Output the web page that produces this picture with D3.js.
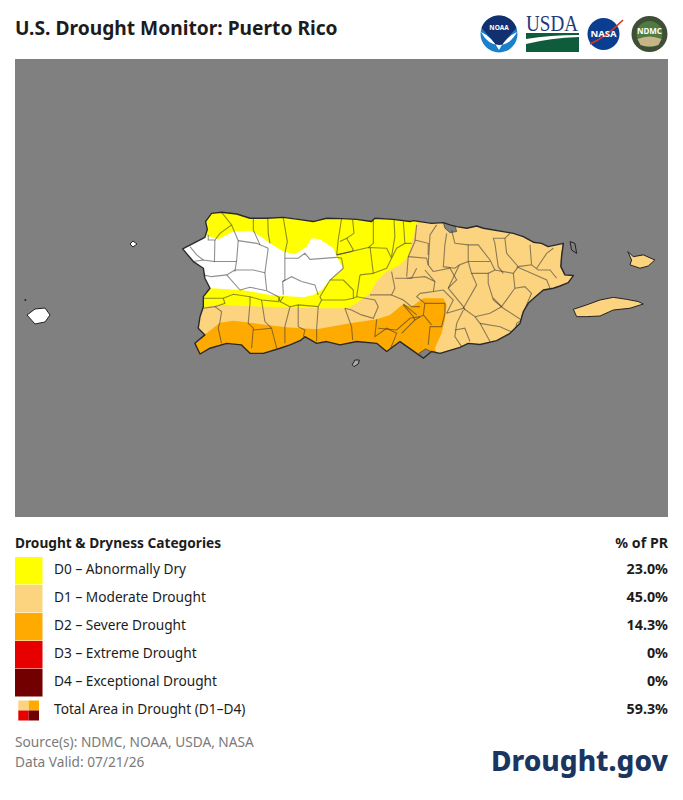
<!DOCTYPE html>
<html>
<head>
<meta charset="utf-8">
<title>U.S. Drought Monitor: Puerto Rico</title>
<script src="https://cdn.jsdelivr.net/npm/d3@7"></script>
<style>
  body { margin: 0; background: #fff; }
  text { font-family: "Noto Sans", sans-serif; fill: #1c1c1c; }
</style>
</head>
<body>
<svg id="chart" width="683" height="800"></svg>
<script>
// legend values
var categories = ['D0', 'D1', 'D2', 'D3', 'D4', 'Total'];
var categoryLabels = ['D0 – Abnormally Dry', 'D1 – Moderate Drought', 'D2 – Severe Drought',
  'D3 – Extreme Drought', 'D4 – Exceptional Drought', 'Total Area in Drought (D1–D4)'];
var categoryValues = ['23.0%', '45.0%', '14.3%', '0%', '0%', '59.3%'];
var categoryColors = ['#ffff00', '#fcd37f', '#ffaa00', '#e60000', '#730000'];

// map extent and outlines, [lon, lat]
var extentLon = [-67.9975, -65.059];
var extentLat = [19.1845, 17.1235];

var landOutline = [[-67.243,18.330],[-67.195,18.355],[-67.143,18.382],[-67.132,18.418],[-67.140,18.453],[-67.113,18.490],[-67.068,18.495],[-67.000,18.487],[-66.940,18.468],[-66.865,18.468],[-66.790,18.472],[-66.723,18.463],[-66.655,18.453],[-66.595,18.468],[-66.528,18.466],[-66.460,18.463],[-66.393,18.453],[-66.378,18.468],[-66.295,18.463],[-66.220,18.453],[-66.205,18.457],[-66.123,18.445],[-66.070,18.448],[-66.040,18.438],[-66.010,18.430],[-65.965,18.423],[-65.920,18.433],[-65.890,18.423],[-65.755,18.400],[-65.710,18.385],[-65.665,18.360],[-65.628,18.355],[-65.598,18.340],[-65.530,18.355],[-65.538,18.295],[-65.541,18.250],[-65.523,18.213],[-65.485,18.210],[-65.508,18.178],[-65.545,18.163],[-65.575,18.153],[-65.620,18.145],[-65.658,18.112],[-65.688,18.085],[-65.710,18.048],[-65.725,17.995],[-65.770,17.950],[-65.830,17.917],[-65.905,17.900],[-65.958,17.905],[-65.995,17.887],[-66.085,17.860],[-66.123,17.868],[-66.160,17.838],[-66.190,17.860],[-66.265,17.913],[-66.325,17.868],[-66.370,17.905],[-66.460,17.913],[-66.535,17.898],[-66.595,17.913],[-66.640,17.905],[-66.693,17.935],[-66.715,17.917],[-66.760,17.898],[-66.805,17.883],[-66.880,17.860],[-66.940,17.860],[-66.978,17.898],[-67.045,17.905],[-67.120,17.883],[-67.165,17.857],[-67.188,17.905],[-67.143,17.943],[-67.173,17.973],[-67.165,18.025],[-67.150,18.070],[-67.150,18.115],[-67.120,18.153],[-67.143,18.198],[-67.150,18.243],[-67.195,18.273]];
var viequesOutline = [[-65.485,18.058],[-65.425,18.078],[-65.365,18.100],[-65.305,18.112],[-65.245,18.103],[-65.193,18.093],[-65.170,18.082],[-65.230,18.063],[-65.305,18.055],[-65.365,18.028],[-65.425,18.025],[-65.470,18.025]];
var culebraOutline = [[-65.240,18.318],[-65.215,18.295],[-65.170,18.303],[-65.118,18.280],[-65.148,18.253],[-65.185,18.243],[-65.230,18.258],[-65.223,18.280]];
var monaOutline = [[-67.9435,18.0325],[-67.9075,18.0595],[-67.8625,18.064],[-67.84,18.0325],[-67.8625,18.001],[-67.9075,17.992]];
var desecheoOutline = [[-67.48,18.352],[-67.4665,18.3655],[-67.4485,18.352],[-67.4665,18.3385]];
var cajaOutline = [[-66.480,17.808],[-66.468,17.83],[-66.448,17.83],[-66.453,17.812],[-66.472,17.80]];
var palominoOutline = [[-65.500,18.363],[-65.478,18.355],[-65.470,18.310],[-65.493,18.325]];
var monitoOutline = [[-67.953,18.102],[-67.949,18.102],[-67.949,18.098],[-67.953,18.098]];

var d0Area = [[-66.175,18.505],[-66.213,18.355],[-66.228,18.295],[-66.265,18.258],[-66.325,18.228],[-66.370,18.183],[-66.400,18.130],[-66.460,18.085],[-66.505,18.063],[-66.625,18.063],[-66.820,18.067],[-67.060,18.078],[-67.165,18.067],[-67.210,18.160],[-67.165,18.460],[-67.135,18.535]];
var noneArea = [[-67.270,18.355],[-67.143,18.393],[-67.083,18.373],[-67.015,18.408],[-66.940,18.412],[-66.903,18.393],[-66.850,18.355],[-66.790,18.318],[-66.738,18.306],[-66.685,18.340],[-66.663,18.378],[-66.625,18.373],[-66.565,18.333],[-66.550,18.295],[-66.520,18.243],[-66.580,18.190],[-66.618,18.145],[-66.655,18.123],[-66.700,18.112],[-66.850,18.123],[-66.978,18.145],[-67.113,18.153],[-67.150,18.145],[-67.210,18.250],[-67.270,18.295]];
var d2Area = [[-67.210,17.920],[-67.135,17.950],[-67.075,17.998],[-67.015,18.007],[-66.940,17.998],[-66.865,17.988],[-66.775,17.977],[-66.640,17.968],[-66.490,17.995],[-66.370,18.013],[-66.310,18.033],[-66.250,18.082],[-66.213,18.070],[-66.160,18.108],[-66.070,18.108],[-66.055,18.078],[-66.063,18.010],[-66.078,17.950],[-66.108,17.883],[-66.093,17.830],[-67.165,17.800],[-67.21,17.86]];

var waterPatches = [
  [[-66.070,18.448],[-66.018,18.438],[-66.010,18.408],[-66.040,18.403],[-66.063,18.423]],
  [[-65.530,18.355],[-65.523,18.295],[-65.528,18.250],[-65.505,18.213],[-65.523,18.213],[-65.541,18.250],[-65.538,18.295]],
  [[-66.180,17.860],[-66.160,17.838],[-66.125,17.868],[-66.150,17.880]]
];

var municipalLines = [
  [[-67.068,18.495],[-67.023,18.438],[-67.075,18.400],[-67.098,18.370],[-67.128,18.370],[-67.128,18.393]],
  [[-67.023,18.438],[-66.993,18.367],[-67.000,18.280],[-67.008,18.228]],
  [[-67.098,18.370],[-67.100,18.273],[-67.150,18.280],[-67.195,18.273]],
  [[-67.210,18.340],[-67.180,18.303],[-67.150,18.280]],
  [[-67.100,18.273],[-67.000,18.273]],
  [[-67.008,18.235],[-67.045,18.213],[-67.113,18.205],[-67.150,18.213]],
  [[-67.045,18.213],[-66.985,18.145]],
  [[-67.008,18.235],[-66.925,18.235],[-66.873,18.223]],
  [[-66.993,18.367],[-66.910,18.355],[-66.858,18.333]],
  [[-66.925,18.468],[-66.925,18.415],[-66.895,18.348]],
  [[-66.858,18.333],[-66.873,18.223],[-66.865,18.145]],
  [[-66.860,18.468],[-66.858,18.400],[-66.850,18.355]],
  [[-66.790,18.468],[-66.772,18.363],[-66.783,18.310],[-66.783,18.190],[-66.793,18.183],[-66.790,18.123]],
  [[-66.783,18.288],[-66.723,18.288],[-66.693,18.310],[-66.670,18.283],[-66.550,18.292]],
  [[-66.793,18.183],[-66.753,18.205],[-66.708,18.183],[-66.648,18.168],[-66.633,18.123]],
  [[-66.985,18.145],[-66.940,18.157],[-66.865,18.142],[-66.813,18.115],[-66.805,18.093],[-66.790,18.115]],
  [[-66.528,18.466],[-66.543,18.370],[-66.550,18.303]],
  [[-66.478,18.460],[-66.472,18.400],[-66.505,18.378],[-66.535,18.363]],
  [[-66.505,18.378],[-66.475,18.325],[-66.483,18.318],[-66.550,18.303]],
  [[-66.550,18.303],[-66.408,18.336],[-66.325,18.333],[-66.303,18.288],[-66.325,18.243],[-66.385,18.220],[-66.400,18.340]],
  [[-66.385,18.468],[-66.385,18.355],[-66.408,18.336]],
  [[-66.292,18.460],[-66.288,18.385],[-66.303,18.295]],
  [[-66.250,18.453],[-66.243,18.355],[-66.280,18.333],[-66.303,18.288]],
  [[-66.243,18.355],[-66.213,18.355]],
  [[-66.520,18.243],[-66.528,18.288],[-66.550,18.292]],
  [[-66.520,18.243],[-66.580,18.190],[-66.625,18.115],[-66.618,18.100]],
  [[-66.580,18.190],[-66.520,18.190],[-66.475,18.145],[-66.475,18.108]],
  [[-66.445,18.213],[-66.460,18.115],[-66.475,18.108],[-66.513,18.100],[-66.618,18.100]],
  [[-66.445,18.213],[-66.385,18.220]],
  [[-67.150,18.108],[-67.060,18.108],[-67.053,18.085],[-67.098,18.070]],
  [[-67.060,18.108],[-67.015,18.126],[-66.940,18.115],[-66.888,18.100],[-66.813,18.093],[-66.805,18.115]],
  [[-66.940,18.115],[-66.940,18.085],[-66.948,17.995],[-66.925,17.973],[-66.933,17.883]],
  [[-66.888,18.100],[-66.873,18.003],[-66.843,17.973],[-66.820,17.883]],
  [[-66.805,18.093],[-66.760,18.070],[-66.783,17.980],[-66.783,17.905]],
  [[-66.723,18.078],[-66.723,17.980],[-66.693,17.965],[-66.700,17.935]],
  [[-66.633,18.070],[-66.640,17.973],[-66.640,17.913]],
  [[-66.513,18.063],[-66.483,17.980],[-66.478,17.920]],
  [[-67.098,18.070],[-67.068,18.048],[-67.075,18.003],[-67.083,17.973],[-67.068,17.905]],
  [[-67.150,18.063],[-67.098,18.070]],
  [[-66.760,18.070],[-66.723,18.078],[-66.633,18.070],[-66.618,18.100]],
  [[-66.925,17.965],[-66.843,17.973]],
  [[-66.460,18.115],[-66.378,18.100],[-66.363,18.070],[-66.385,18.018],[-66.438,18.033],[-66.483,18.055],[-66.513,18.063]],
  [[-66.370,18.013],[-66.378,17.935],[-66.325,17.973],[-66.280,17.950],[-66.310,17.875]],
  [[-66.363,17.973],[-66.280,17.965],[-66.220,18.018],[-66.175,18.025]],
  [[-66.250,18.082],[-66.190,18.033]],
  [[-66.400,18.123],[-66.303,18.123]],
  [[-66.303,18.228],[-66.288,18.153],[-66.303,18.123],[-66.250,18.100],[-66.213,18.070],[-66.175,18.070]],
  [[-66.288,18.198],[-66.213,18.198],[-66.190,18.243]],
  [[-66.190,18.438],[-66.198,18.363],[-66.228,18.295],[-66.235,18.205]],
  [[-66.198,18.370],[-66.138,18.355],[-66.138,18.303]],
  [[-66.100,18.438],[-66.130,18.393],[-66.138,18.258],[-66.115,18.228]],
  [[-66.055,18.400],[-66.063,18.348],[-66.070,18.250],[-66.018,18.243],[-65.998,18.258]],
  [[-66.228,18.295],[-66.145,18.288],[-66.138,18.258]],
  [[-66.235,18.198],[-66.153,18.205],[-66.108,18.183],[-66.115,18.138],[-66.175,18.130]],
  [[-66.153,18.235],[-66.108,18.183]],
  [[-66.115,18.228],[-66.040,18.243],[-66.010,18.190],[-66.048,18.153]],
  [[-65.998,18.258],[-66.048,18.153],[-65.980,18.070],[-65.973,18.055]],
  [[-65.998,18.258],[-65.958,18.273],[-65.860,18.273]],
  [[-65.958,18.273],[-65.958,18.348],[-65.913,18.348],[-65.860,18.280],[-65.838,18.235]],
  [[-66.033,18.415],[-66.018,18.355],[-65.958,18.348]],
  [[-65.958,18.273],[-65.943,18.220],[-65.920,18.168],[-65.980,18.063]],
  [[-65.943,18.220],[-65.868,18.220],[-65.838,18.235],[-65.755,18.220],[-65.733,18.250],[-65.785,18.310]],
  [[-65.868,18.220],[-65.868,18.175],[-65.845,18.100],[-65.800,18.063]],
  [[-65.838,18.355],[-65.845,18.378],[-65.793,18.378],[-65.770,18.400]],
  [[-65.793,18.378],[-65.785,18.310]],
  [[-65.838,18.355],[-65.823,18.250],[-65.800,18.220]],
  [[-65.680,18.348],[-65.673,18.258],[-65.733,18.250]],
  [[-65.673,18.258],[-65.643,18.235],[-65.590,18.235],[-65.560,18.198]],
  [[-65.755,18.220],[-65.748,18.153],[-65.808,18.070],[-65.845,18.108]],
  [[-65.748,18.153],[-65.703,18.160],[-65.673,18.130],[-65.718,18.025]],
  [[-65.740,18.250],[-65.673,18.220],[-65.605,18.190],[-65.590,18.153]],
  [[-65.800,18.063],[-65.718,18.010],[-65.740,17.995],[-65.748,17.950]],
  [[-65.928,18.025],[-65.860,18.040],[-65.808,18.070]],
  [[-65.980,18.063],[-65.928,18.025],[-65.905,17.995],[-65.860,17.913]],
  [[-65.905,17.995],[-65.815,17.980],[-65.748,17.950]],
  [[-65.980,18.055],[-66.010,17.995],[-66.018,17.935],[-65.988,17.890]],
  [[-66.018,17.965],[-65.973,17.973],[-65.950,17.913]],
  [[-66.055,18.040],[-65.980,18.063]],
  [[-66.153,18.085],[-66.063,18.085],[-66.063,18.040],[-66.078,17.980],[-66.130,17.980],[-66.138,17.898]],
  [[-66.153,18.085],[-66.160,18.033],[-66.198,18.010],[-66.258,17.950]],
  [[-66.160,18.033],[-66.123,17.988]],
  [[-66.250,18.078],[-66.205,18.025],[-66.198,18.010]],
  [[-66.175,18.130],[-66.190,18.115],[-66.153,18.085]],
  [[-66.115,18.138],[-66.070,18.145],[-66.025,18.100],[-66.055,18.040]],
  [[-65.575,18.333],[-65.605,18.310],[-65.650,18.243]]
];

var svg = d3.select('#chart');

svg.append('text').attr('x', 15).attr('y', 35)
  .style('font-size', '19.2px').style('font-weight', 700)
  .text('U.S. Drought Monitor: Puerto Rico');

// map
var xMap = d3.scaleLinear().domain(extentLon).range([15, 668]);
var yMap = d3.scaleLinear().domain(extentLat).range([59, 517]);
var ring = d3.line().x(function(d) { return xMap(d[0]); }).y(function(d) { return yMap(d[1]); });
function closed(pts) { return ring(pts) + 'Z'; }

svg.append('rect').attr('x', xMap(extentLon[0])).attr('y', yMap(extentLat[0]))
  .attr('width', xMap(extentLon[1]) - xMap(extentLon[0]))
  .attr('height', yMap(extentLat[1]) - yMap(extentLat[0]))
  .attr('fill', '#808080');

// the source map is a soft raster, so take the edge off the vector lines
svg.append('filter').attr('id', 'soft').append('feGaussianBlur').attr('stdDeviation', 0.35);
svg.append('clipPath').attr('id', 'land').append('path').attr('d', closed(landOutline));

var mapG = svg.append('g').attr('filter', 'url(#soft)');
mapG.append('path').attr('d', closed(landOutline)).attr('fill', categoryColors[1]);

var clipped = mapG.append('g').attr('clip-path', 'url(#land)');
clipped.append('path').attr('d', closed(d0Area)).attr('fill', categoryColors[0]);
clipped.append('path').attr('d', closed(noneArea)).attr('fill', '#fff');
clipped.append('path').attr('d', closed(d2Area)).attr('fill', categoryColors[2]);
clipped.selectAll('path.water').data(waterPatches).enter().append('path')
  .attr('class', 'water').attr('d', closed).attr('fill', '#808080')
  .attr('stroke', '#333').attr('stroke-width', 0.6);
clipped.selectAll('path.muni').data(municipalLines).enter().append('path')
  .attr('class', 'muni').attr('d', ring).attr('fill', 'none')
  .attr('stroke', '#333').attr('stroke-opacity', 0.55).attr('stroke-width', 1.1);

mapG.append('path').attr('d', closed(landOutline)).attr('fill', 'none')
  .attr('stroke', '#2a2a2a').attr('stroke-width', 1.4).attr('stroke-linejoin', 'round');

var islands = [
  { pts: viequesOutline, fill: categoryColors[1] },
  { pts: culebraOutline, fill: categoryColors[1] },
  { pts: monaOutline, fill: '#fff' },
  { pts: desecheoOutline, fill: '#fff' },
  { pts: cajaOutline, fill: '#aaa' },
  { pts: palominoOutline, fill: '#808080' },
  { pts: monitoOutline, fill: '#444' }
];
mapG.selectAll('path.island').data(islands).enter().append('path')
  .attr('class', 'island')
  .attr('d', function(d) { return closed(d.pts); })
  .attr('fill', function(d) { return d.fill; })
  .attr('stroke', '#222').attr('stroke-width', 1).attr('stroke-linejoin', 'round');

// legend
var yRow = d3.scaleBand().domain(categories).range([557, 725]);
var rows = svg.append('g').selectAll('g').data(categories).enter().append('g')
  .attr('transform', function(d) { return 'translate(0,' + yRow(d) + ')'; });

svg.append('text').attr('x', 15).attr('y', 548)
  .style('font-size', '13.7px').style('font-weight', 700).text('Drought & Dryness Categories');
svg.append('text').attr('x', 668).attr('y', 548).attr('text-anchor', 'end')
  .style('font-size', '14.2px').style('font-weight', 700).text('% of PR');

rows.filter(function(d) { return d !== 'Total'; }).append('rect')
  .attr('x', 15).attr('width', 27.5).attr('height', yRow.bandwidth() - 0.5)
  .attr('fill', function(d, i) { return categoryColors[i]; });

rows.append('text').attr('x', 54).attr('y', 17)
  .style('font-size', '13.7px')
  .text(function(d, i) { return categoryLabels[i]; });
rows.append('text').attr('x', 668).attr('y', 17).attr('text-anchor', 'end')
  .style('font-size', '14.3px').style('font-weight', 700)
  .text(function(d, i) { return categoryValues[i]; });

// total icon, four small squares
var iconCells = [categoryColors[1], categoryColors[2], categoryColors[3], categoryColors[4]];
var xIcon = d3.scaleBand().domain([0, 1]).range([18.3, 39]);
var yIcon = d3.scaleBand().domain([0, 1]).range([700.5, 720.5]);
svg.append('g').selectAll('rect').data(iconCells).enter().append('rect')
  .attr('x', function(d, i) { return xIcon(i % 2); })
  .attr('y', function(d, i) { return yIcon(i < 2 ? 0 : 1); })
  .attr('width', xIcon.bandwidth()).attr('height', yIcon.bandwidth())
  .attr('fill', function(d) { return d; });

// footer
svg.append('text').attr('x', 15).attr('y', 747).style('font-size', '13.7px').style('fill', '#7a7a7a')
  .text('Source(s): NDMC, NOAA, USDA, NASA');
svg.append('text').attr('x', 15).attr('y', 767).style('font-size', '13.7px').style('fill', '#7a7a7a')
  .text('Data Valid: 07/21/26');
svg.append('text').attr('x', 668).attr('y', 771).attr('text-anchor', 'end')
  .style('font-size', '28px').style('font-weight', 800).style('fill', '#1a3560')
  .text('Drought.gov');

// agency logos
var logos = svg.append('g');
// NOAA
logos.append('circle').attr('cx', 499).attr('cy', 34).attr('r', 18.5).attr('fill', '#1a80cc');
logos.append('path').attr('d', 'M481.5 28 A18.5 18.5 0 0 1 516.5 28 Q508 37 499 49 Q490 37 481.5 28Z').attr('fill', '#12306f');
logos.append('path').attr('d', 'M481 32 Q492 37 499 50 Q506 37 517 32 Q510 45 499 45 Q488 45 481 32Z').attr('fill', '#fff');
logos.append('text').attr('x', 499).attr('y', 30).attr('text-anchor', 'middle')
  .style('font-size', '6.5px').style('font-weight', 700).style('fill', '#fff').text('NOAA');
// USDA
logos.append('text').attr('x', 526).attr('y', 30.5).attr('textLength', 52).attr('lengthAdjust', 'spacingAndGlyphs')
  .style('font-size', '23px').style('fill', '#1f3a7a')
  .style('font-family', '"Liberation Serif", serif').text('USDA');
logos.append('rect').attr('x', 526).attr('y', 33).attr('width', 53).attr('height', 19).attr('fill', '#0f5c3c');
logos.append('path').attr('d', 'M526 39 Q550 35 579 35 L579 37 Q550 38 526 44Z').attr('fill', '#fff');
// NASA
logos.append('circle').attr('cx', 603.5).attr('cy', 34).attr('r', 16).attr('fill', '#0b3d91');
logos.append('path').attr('d', 'M590 44 Q606 37 623 20').attr('stroke', '#dd361c').attr('stroke-width', 1.6).attr('fill', 'none');
logos.append('text').attr('x', 603.5).attr('y', 37).attr('text-anchor', 'middle')
  .style('font-size', '9.5px').style('font-weight', 700).style('fill', '#fff').text('NASA');
// NDMC
logos.append('circle').attr('cx', 649.5).attr('cy', 34).attr('r', 18).attr('fill', '#3f4f35');
logos.append('circle').attr('cx', 649.5).attr('cy', 34).attr('r', 13).attr('fill', '#4f7a40');
logos.append('path').attr('d', 'M637.5 39 Q649.5 34 661.5 39 L658.5 45 Q649.5 48 640.5 45Z').attr('fill', '#c9b48a');
logos.append('text').attr('x', 649.5).attr('y', 34).attr('text-anchor', 'middle')
  .style('font-size', '8px').style('font-weight', 700).style('fill', '#fff').text('NDMC');
</script>
</body>
</html>
